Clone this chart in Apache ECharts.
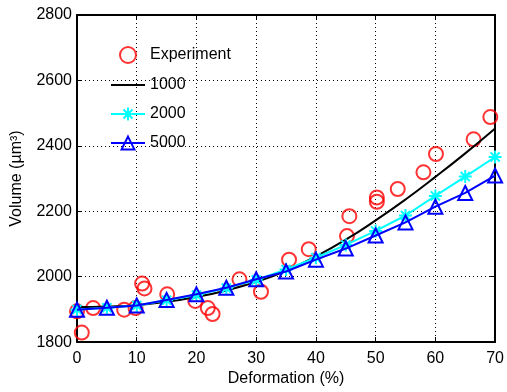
<!DOCTYPE html>
<html>
<head>
<meta charset="utf-8">
<script src="https://cdn.jsdelivr.net/npm/echarts@6/dist/echarts.min.js"></script>
<style>html,body{margin:0;padding:0;background:#fff}#c{width:507px;height:392px}</style>
</head>
<body>
<div id="c"></div>
<script>
// Experiment (deformation %, volume)
var expX = [0, 0.8, 2.7, 7.9, 9.8, 10.9, 11.3, 15.1, 19.8, 21.9, 22.7, 27.2, 30.8, 35.5, 38.8, 45.2, 45.6, 50.2, 50.2, 53.7, 58.0, 60.1, 66.4, 69.2];
var expY = [1894, 1829, 1904, 1899, 1904, 1979, 1964, 1946, 1926, 1904, 1886, 1992, 1954, 2052, 2084, 2124, 2185, 2242, 2229, 2268, 2319, 2375, 2420, 2488];
// Model curves sampled every 5 %
var modelX = [0, 5, 10, 15, 20, 25, 30, 35, 40, 45, 50, 55, 60, 65, 70];
var y1000 = [1907, 1909, 1913, 1923, 1938, 1958, 1984, 2018, 2062, 2113, 2172, 2236, 2305, 2377, 2453];
var y2000 = [1900, 1905, 1912, 1928, 1944, 1965, 1990, 2022, 2058, 2097, 2140, 2187, 2247, 2306, 2366];
var y5000 = [1899, 1905, 1912, 1929, 1946, 1966, 1992, 2016, 2052, 2086, 2126, 2166, 2214, 2256, 2309];
var seriesNames = ['Experiment', '1000', '2000', '5000'];
var xTicks = {min: 0, max: 70, interval: 10};
var yTicks = {min: 1800, max: 2800, interval: 200};

function pairs(xs, ys) { return xs.map(function (x, i) { return [x, ys[i]]; }); }

var font = 'Liberation Sans, Arial, Helvetica, sans-serif';
var star = 'path://M0,-10L0,10M-10,0L10,0M-7,-7L7,7M-7,7L7,-7';

var chart = echarts.init(document.getElementById('c'), null, {renderer: 'canvas'});
var gridLine = {show: true, lineStyle: {color: '#000', width: 1, type: [1, 3]}};
var plain = function (v) { return String(v); };
chart.setOption({
  animation: false,
  backgroundColor: '#fff',
  textStyle: {fontFamily: font},
  grid: {left: 77, right: 10, top: 15, bottom: 44},
  legend: {
    orient: 'vertical', left: 110, top: 46, padding: 0, itemWidth: 34, itemHeight: 16, itemGap: 13,
    textStyle: {fontSize: 16, color: '#000', fontFamily: font, lineHeight: 16},
    data: [seriesNames[0], {name: seriesNames[1], itemStyle: {opacity: 0}}, seriesNames[2], seriesNames[3]]
  },
  xAxis: [{
    type: 'value', min: xTicks.min, max: xTicks.max, interval: xTicks.interval,
    name: 'Deformation (%)', nameLocation: 'middle', nameGap: 25,
    nameTextStyle: {fontSize: 16, color: '#000', fontFamily: font},
    axisLine: {show: true, lineStyle: {color: '#000', width: 2}},
    axisTick: {show: true, inside: true, length: 5, lineStyle: {color: '#000', width: 1}},
    axisLabel: {fontSize: 16, color: '#000', margin: 8, fontFamily: font, formatter: plain},
    splitLine: gridLine
  }, {
    type: 'value', position: 'top', min: xTicks.min, max: xTicks.max, interval: xTicks.interval,
    axisLine: {show: true, onZero: false, lineStyle: {color: '#000', width: 2}},
    axisTick: {show: true, inside: true, length: 5, lineStyle: {color: '#000', width: 1}},
    axisLabel: {show: false}, splitLine: {show: false}
  }],
  yAxis: [{
    type: 'value', min: yTicks.min, max: yTicks.max, interval: yTicks.interval,
    name: 'Volume (µm³)', nameLocation: 'middle', nameGap: 52,
    nameTextStyle: {fontSize: 16, color: '#000', fontFamily: font},
    axisLine: {show: true, lineStyle: {color: '#000', width: 2}},
    axisTick: {show: true, inside: true, length: 5, lineStyle: {color: '#000', width: 1}},
    axisLabel: {fontSize: 16, color: '#000', margin: 5, fontFamily: font, formatter: plain},
    splitLine: gridLine
  }, {
    type: 'value', position: 'right', min: yTicks.min, max: yTicks.max, interval: yTicks.interval,
    axisLine: {show: true, onZero: false, lineStyle: {color: '#000', width: 2}},
    axisTick: {show: true, inside: true, length: 5, lineStyle: {color: '#000', width: 1}},
    axisLabel: {show: false}, splitLine: {show: false}
  }],
  series: [{
    name: seriesNames[0], type: 'scatter', symbol: 'circle', symbolSize: 14,
    itemStyle: {color: 'rgba(255,255,255,0)', borderColor: '#ff0000', borderWidth: 2},
    data: pairs(expX, expY), z: 2
  }, {
    name: seriesNames[1], type: 'line', symbol: 'none', smooth: true,
    lineStyle: {color: '#000', width: 2}, itemStyle: {color: '#000'},
    data: pairs(modelX, y1000), z: 3
  }, {
    name: seriesNames[2], type: 'line', symbol: star, symbolSize: 13, showSymbol: true,
    lineStyle: {color: '#00ffff', width: 2},
    itemStyle: {color: '#00ffff', borderColor: '#00ffff', borderWidth: 2},
    data: pairs(modelX, y2000), z: 4
  }, {
    name: seriesNames[3], type: 'line', symbol: 'triangle', symbolSize: 14, showSymbol: true,
    lineStyle: {color: '#0000ff', width: 2},
    itemStyle: {color: 'rgba(255,255,255,0)', borderColor: '#0000ff', borderWidth: 2},
    data: pairs(modelX, y5000), z: 5
  }]
});
</script>
</body>
</html>
